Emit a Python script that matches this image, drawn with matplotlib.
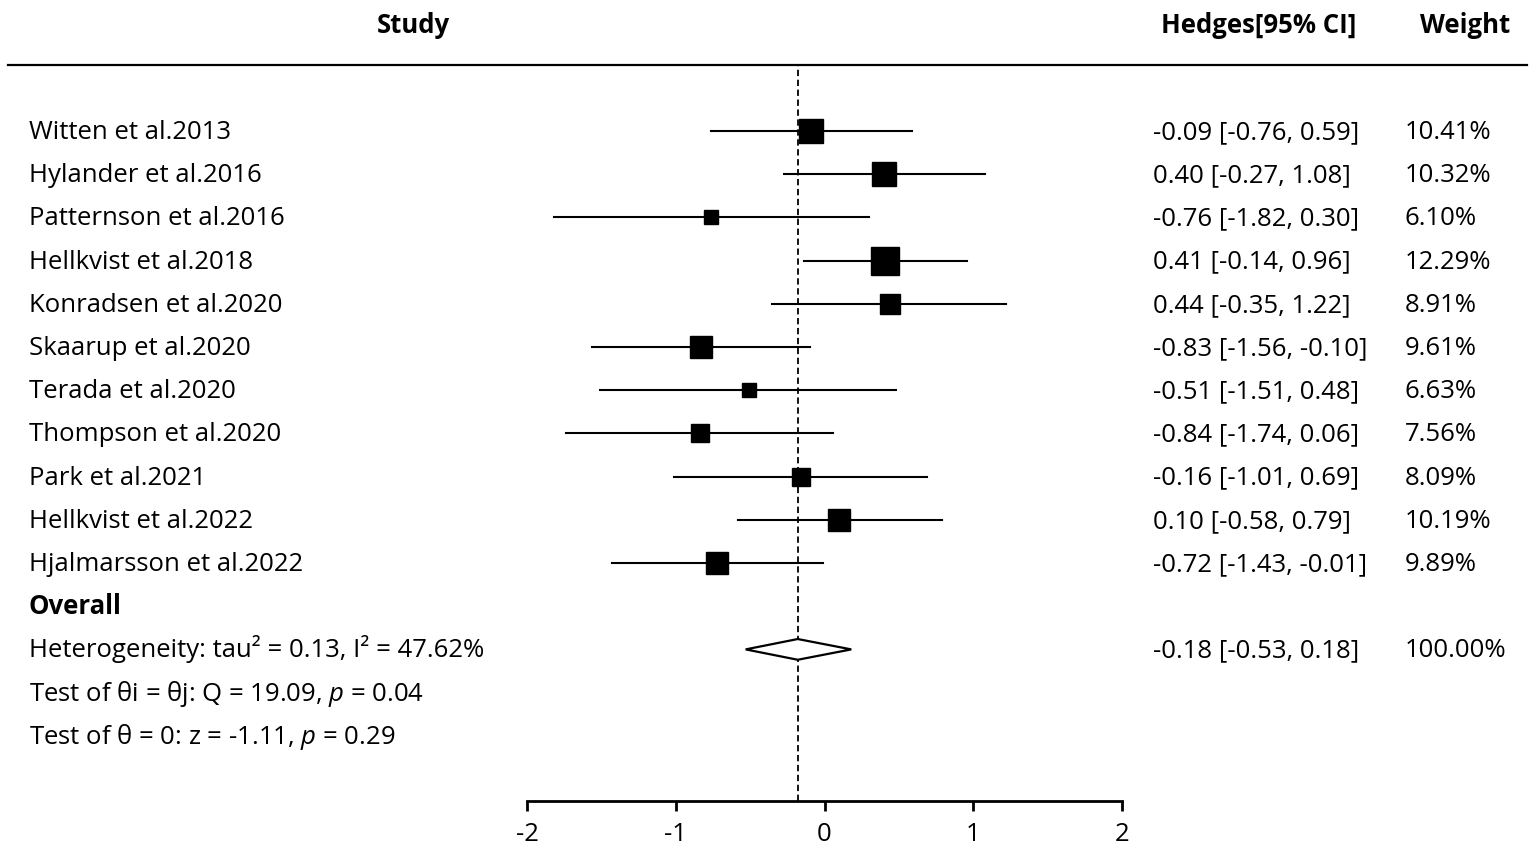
import numpy as np
import matplotlib
matplotlib.use("Agg")
import matplotlib.pyplot as plt
from matplotlib.lines import Line2D
from matplotlib.patches import Polygon
from matplotlib.transforms import blended_transform_factory

plt.rcParams['font.family'] = ['Open Sans', 'DejaVu Sans']
plt.rcParams['mathtext.fontset'] = 'custom'
plt.rcParams['mathtext.rm'] = 'Open Sans'
plt.rcParams['mathtext.it'] = 'Open Sans:italic'

studies = ['Witten et al.2013', 'Hylander et al.2016', 'Patternson et al.2016',
           'Hellkvist et al.2018', 'Konradsen et al.2020', 'Skaarup et al.2020',
           'Terada et al.2020', 'Thompson et al.2020', 'Park et al.2021',
           'Hellkvist et al.2022', 'Hjalmarsson et al.2022']
hedges = [-0.09, 0.40, -0.76, 0.41, 0.44, -0.83, -0.51, -0.84, -0.16, 0.10, -0.72]
ci_lo = [-0.76, -0.27, -1.82, -0.14, -0.35, -1.56, -1.51, -1.74, -1.01, -0.58, -1.43]
ci_hi = [0.59, 1.08, 0.30, 0.96, 1.22, -0.10, 0.48, 0.06, 0.69, 0.79, -0.01]
weights = [10.41, 10.32, 6.10, 12.29, 8.91, 9.61, 6.63, 7.56, 8.09, 10.19, 9.89]

overall = -0.18
overall_lo = -0.53
overall_hi = 0.18
overall_weight = 100.00

stats_lines = ['Heterogeneity: tau\u00b2 = 0.13, I\u00b2 = 47.62%',
               'Test of \u03b8i = \u03b8j: Q = 19.09, $p$ = 0.04',
               'Test of \u03b8 = 0: z = -1.11, $p$ = 0.29']

W, H = 1535, 856
fig = plt.figure(figsize=(W / 100, H / 100), dpi=100)
# axes spans x pixels 527..1122 and y pixels 65..801
ax = fig.add_axes([527 / W, (H - 801) / H, (1122 - 527) / W, (801 - 65) / H])

row_h = 43.2
y0 = 131
ax.set_xlim(-2, 2)
ax.set_ylim((801 - y0) / row_h, (65 - y0) / row_h)

n = len(studies)
y = np.arange(n)

# CI lines and boxes
for i in range(n):
    ax.plot([ci_lo[i], ci_hi[i]], [y[i], y[i]], color='black', lw=1.5, zorder=2)
    ax.plot(hedges[i], y[i], marker='s', color='black', ms=1.62 * weights[i],
            mec='black', zorder=3)

# overall diamond
yd = n + 1
dh = 0.24
diamond = Polygon([[overall_lo, yd], [overall, yd - dh], [overall_hi, yd], [overall, yd + dh]],
                  closed=True, facecolor='white', edgecolor='black', lw=1.6, zorder=3)
ax.add_patch(diamond)

# dashed reference line at overall estimate
ax.axvline(overall, color='black', lw=1.3, ls=(0, (3.5, 2)), zorder=1)

# axis styling
for s in ['top', 'right', 'left']:
    ax.spines[s].set_visible(False)
ax.spines['bottom'].set_linewidth(2)
ax.set_yticks([])
ax.set_xticks([-2, -1, 0, 1, 2])
ax.set_xticklabels(['-2', '-1', '0', '1', '2'])
ax.tick_params(axis='x', length=7, width=2, labelsize=18.5, pad=8)

# texts, placed on their baseline
tr = blended_transform_factory(fig.transFigure, ax.transData)
fs = 18.5
bl = 8 / row_h
x_lab = 29 / W
x_ci = 1153 / W
x_w = 1405 / W

for i in range(n):
    ax.text(x_lab, y[i] + bl, studies[i], transform=tr, ha='left', va='baseline', fontsize=fs)
    ax.text(x_ci, y[i] + bl, '%.2f [%.2f, %.2f]' % (hedges[i], ci_lo[i], ci_hi[i]),
            transform=tr, ha='left', va='baseline', fontsize=fs)
    ax.text(x_w, y[i] + bl, '%.2f%%' % weights[i], transform=tr, ha='left', va='baseline', fontsize=fs)

ax.text(x_lab, n + bl, 'Overall', transform=tr, ha='left', va='baseline', fontsize=fs, fontweight='bold')
for k, line in enumerate(stats_lines):
    ax.text(x_lab, n + 1 + k + bl, line, transform=tr, ha='left', va='baseline', fontsize=fs)
ax.text(x_ci, n + 1 + bl, '%.2f [%.2f, %.2f]' % (overall, overall_lo, overall_hi),
        transform=tr, ha='left', va='baseline', fontsize=fs)
ax.text(x_w, n + 1 + bl, '%.2f%%' % overall_weight, transform=tr, ha='left', va='baseline', fontsize=fs)

# header
yh = (25 - y0) / row_h + bl
ax.text(413 / W, yh, 'Study', transform=tr, ha='center', va='baseline', fontsize=fs, fontweight='bold')
ax.text(1259 / W, yh, 'Hedges[95% CI]', transform=tr, ha='center', va='baseline', fontsize=fs, fontweight='bold')
ax.text(1465 / W, yh, 'Weight', transform=tr, ha='center', va='baseline', fontsize=fs, fontweight='bold')

fig.add_artist(Line2D([8 / W, 1527 / W], [(H - 65) / H, (H - 65) / H], color='black', lw=1.6,
                      transform=fig.transFigure))

fig.savefig('out.png', dpi=100, facecolor='white')
